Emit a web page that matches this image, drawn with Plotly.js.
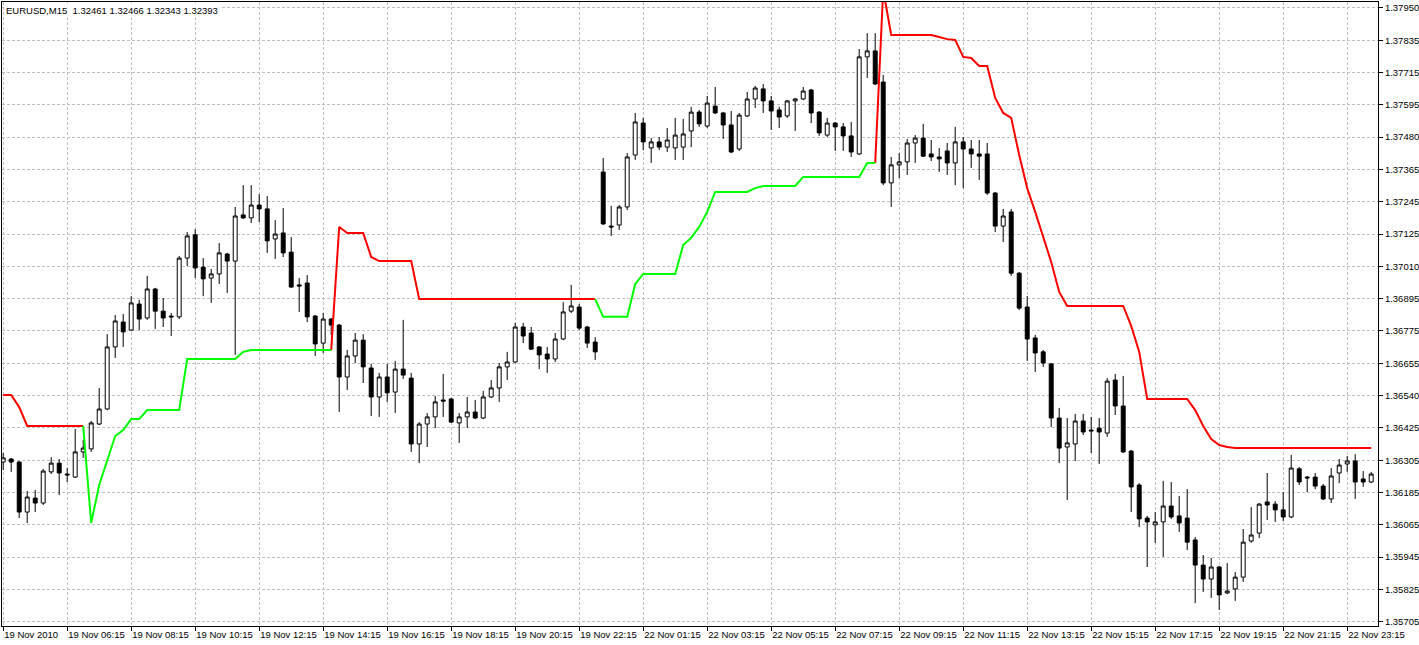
<!DOCTYPE html>
<html>
<head>
<meta charset="utf-8">
<script src="https://cdn.plot.ly/plotly-3.0.1.min.js"></script>
<style>
  html, body { margin: 0; padding: 0; background: #ffffff; }
  #chart { width: 1419px; height: 645px; }
</style>
</head>
<body>
<div id="chart"></div>
<script>
// ---- chart text ----
const chartTitle = 'EURUSD,M15\u00a0\u00a01.32461 1.32466 1.32343 1.32393';

// ---- tick labels ----
const timeLabels = ['19 Nov 2010','19 Nov 06:15','19 Nov 08:15','19 Nov 10:15','19 Nov 12:15','19 Nov 14:15',
  '19 Nov 16:15','19 Nov 18:15','19 Nov 20:15','19 Nov 22:15','22 Nov 01:15','22 Nov 03:15','22 Nov 05:15',
  '22 Nov 07:15','22 Nov 09:15','22 Nov 11:15','22 Nov 13:15','22 Nov 15:15','22 Nov 17:15','22 Nov 19:15',
  '22 Nov 21:15','22 Nov 23:15'];
const barsPerLabel = 8;
const priceLabels = ['1.37950','1.37835','1.37715','1.37595','1.37480','1.37365','1.37245','1.37125','1.37010',
  '1.36895','1.36775','1.36655','1.36540','1.36425','1.36305','1.36185','1.36065','1.35945','1.35825','1.35705'];

// ---- M15 candles (bar 0 .. 171) ----
const open = [
1.36289,1.36300,1.36289,1.36106,1.36157,1.36139,1.36253,1.36285,1.36245,1.36234,
1.36326,1.36337,1.36428,1.36483,1.36710,1.36801,1.36772,1.36867,1.36816,1.36922,
1.36841,1.36823,1.36820,1.37035,1.37120,1.37002,1.36962,1.36977,1.37050,1.37024,
1.37193,1.37182,1.37229,1.37215,1.37105,1.37127,1.37057,1.36937,1.36944,1.36823,
1.36724,1.36812,1.36790,1.36600,1.36677,1.36735,1.36633,1.36527,1.36600,1.36545,
1.36629,1.36596,1.36355,1.36428,1.36454,1.36516,1.36520,1.36432,1.36454,1.36472,
1.36450,1.36527,1.36560,1.36637,1.36655,1.36783,1.36761,1.36710,1.36684,1.36666,
1.36739,1.36841,1.36856,1.36783,1.36728,1.37350,1.37152,1.37156,1.37222,1.37412,
1.37529,1.37438,1.37460,1.37441,1.37438,1.37441,1.37500,1.37569,1.37518,1.37591,
1.37566,1.37522,1.37434,1.37555,1.37617,1.37654,1.37610,1.37577,1.37555,1.37610,
1.37617,1.37650,1.37569,1.37485,1.37529,1.37515,1.37482,1.37416,1.37771,1.37793,
1.37679,1.37310,1.37376,1.37387,1.37456,1.37474,1.37416,1.37405,1.37427,1.37383,
1.37460,1.37434,1.37416,1.37416,1.37273,1.37152,1.37204,1.36980,1.36856,1.36743,
1.36692,1.36648,1.36450,1.36344,1.36355,1.36439,1.36406,1.36413,1.36395,1.36589,
1.36494,1.36329,1.36205,1.36084,1.36059,1.36070,1.36128,1.36092,1.36084,1.36004,
1.35912,1.35861,1.35905,1.35810,1.35825,1.35868,1.36000,1.36029,1.36143,1.36135,
1.36114,1.36088,1.36264,1.36234,1.36234,1.36201,1.36154,1.36249,1.36282,1.36293,
1.36227,1.36216];
const high = [
1.36322,1.36304,1.36293,1.36183,1.36187,1.36264,1.36307,1.36300,1.36267,1.36410,
1.36370,1.36439,1.36560,1.36757,1.36827,1.36831,1.36896,1.36882,1.36970,1.36926,
1.36889,1.36834,1.37043,1.37130,1.37141,1.37035,1.36995,1.37090,1.37054,1.37222,
1.37302,1.37302,1.37269,1.37262,1.37174,1.37218,1.37112,1.36962,1.36973,1.36827,
1.36834,1.36816,1.36794,1.36699,1.36761,1.36757,1.36648,1.36615,1.36648,1.36659,
1.36809,1.36615,1.36435,1.36468,1.36531,1.36611,1.36523,1.36468,1.36527,1.36516,
1.36549,1.36589,1.36651,1.36692,1.36798,1.36798,1.36783,1.36713,1.36710,1.36761,
1.36874,1.36937,1.36867,1.36787,1.36746,1.37401,1.37226,1.37229,1.37419,1.37566,
1.37548,1.37474,1.37478,1.37511,1.37548,1.37544,1.37588,1.37577,1.37628,1.37661,
1.37569,1.37573,1.37566,1.37643,1.37665,1.37672,1.37628,1.37588,1.37613,1.37621,
1.37661,1.37654,1.37573,1.37548,1.37533,1.37529,1.37533,1.37800,1.37858,1.37858,
1.37705,1.37405,1.37419,1.37471,1.37485,1.37526,1.37467,1.37438,1.37456,1.37515,
1.37478,1.37467,1.37467,1.37456,1.37277,1.37215,1.37215,1.36984,1.36896,1.36754,
1.36699,1.36651,1.36487,1.36450,1.36465,1.36465,1.36454,1.36450,1.36596,1.36611,
1.36604,1.36333,1.36212,1.36092,1.36106,1.36220,1.36216,1.36165,1.36190,1.36015,
1.35949,1.35938,1.35909,1.35920,1.35887,1.36044,1.36124,1.36139,1.36249,1.36146,
1.36179,1.36315,1.36271,1.36238,1.36249,1.36209,1.36267,1.36300,1.36311,1.36318,
1.36256,1.36253];
const low = [
1.36260,1.36253,1.36084,1.36066,1.36106,1.36132,1.36245,1.36168,1.36216,1.36231,
1.36304,1.36326,1.36424,1.36479,1.36670,1.36710,1.36768,1.36772,1.36809,1.36776,
1.36783,1.36750,1.36812,1.37006,1.36962,1.36896,1.36871,1.36940,1.36907,1.36681,
1.37178,1.37163,1.37167,1.37054,1.37032,1.37039,1.36926,1.36838,1.36801,1.36677,
1.36688,1.36754,1.36472,1.36552,1.36651,1.36578,1.36457,1.36454,1.36509,1.36468,
1.36593,1.36326,1.36285,1.36344,1.36413,1.36454,1.36432,1.36359,1.36413,1.36446,
1.36446,1.36523,1.36509,1.36589,1.36651,1.36724,1.36699,1.36629,1.36615,1.36655,
1.36735,1.36834,1.36772,1.36706,1.36662,1.37156,1.37116,1.37138,1.37211,1.37394,
1.37430,1.37383,1.37430,1.37423,1.37394,1.37394,1.37441,1.37515,1.37511,1.37562,
1.37471,1.37419,1.37427,1.37551,1.37584,1.37566,1.37504,1.37511,1.37548,1.37500,
1.37613,1.37529,1.37482,1.37478,1.37427,1.37427,1.37405,1.37412,1.37694,1.37668,
1.37302,1.37222,1.37328,1.37339,1.37383,1.37405,1.37390,1.37350,1.37339,1.37302,
1.37291,1.37365,1.37321,1.37266,1.37130,1.37094,1.36970,1.36845,1.36659,1.36618,
1.36637,1.36417,1.36285,1.36150,1.36293,1.36388,1.36322,1.36282,1.36381,1.36461,
1.36322,1.36106,1.36051,1.35905,1.35993,1.35942,1.36081,1.36033,1.35967,1.35773,
1.35814,1.35792,1.35748,1.35806,1.35781,1.35850,1.35993,1.36011,1.36077,1.36070,
1.36073,1.36084,1.36205,1.36179,1.36190,1.36150,1.36139,1.36212,1.36253,1.36154,
1.36198,1.36212];
const close = [
1.36304,1.36289,1.36106,1.36161,1.36139,1.36256,1.36285,1.36249,1.36242,1.36326,
1.36340,1.36432,1.36483,1.36710,1.36805,1.36765,1.36871,1.36812,1.36922,1.36841,
1.36816,1.36820,1.37035,1.37116,1.36999,1.36959,1.36977,1.37054,1.37024,1.37189,
1.37182,1.37229,1.37215,1.37098,1.37123,1.37054,1.36929,1.36933,1.36820,1.36721,
1.36812,1.36790,1.36600,1.36677,1.36735,1.36637,1.36527,1.36600,1.36542,1.36629,
1.36607,1.36355,1.36428,1.36454,1.36509,1.36512,1.36435,1.36454,1.36472,1.36450,
1.36527,1.36560,1.36637,1.36655,1.36783,1.36750,1.36702,1.36681,1.36666,1.36739,
1.36838,1.36860,1.36779,1.36724,1.36692,1.37160,1.37149,1.37222,1.37405,1.37533,
1.37460,1.37460,1.37441,1.37467,1.37485,1.37489,1.37569,1.37526,1.37602,1.37566,
1.37522,1.37423,1.37558,1.37617,1.37657,1.37610,1.37573,1.37551,1.37610,1.37617,
1.37646,1.37566,1.37493,1.37529,1.37515,1.37482,1.37423,1.37771,1.37793,1.37672,
1.37310,1.37376,1.37387,1.37456,1.37474,1.37408,1.37405,1.37398,1.37383,1.37460,
1.37434,1.37416,1.37408,1.37273,1.37152,1.37189,1.36980,1.36852,1.36739,1.36688,
1.36651,1.36450,1.36340,1.36359,1.36439,1.36399,1.36403,1.36399,1.36585,1.36494,
1.36326,1.36198,1.36081,1.36070,1.36070,1.36128,1.36088,1.36066,1.35996,1.35912,
1.35861,1.35905,1.35803,1.35817,1.35868,1.35996,1.36022,1.36135,1.36132,1.36114,
1.36088,1.36267,1.36216,1.36231,1.36201,1.36154,1.36238,1.36278,1.36293,1.36216,
1.36216,1.36245];

// ---- trailing-stop indicator: downtrend (red) and uptrend (green) ----
const stopDown = [
1.36534,1.36534,1.36490,1.36421,1.36421,1.36421,1.36421,1.36421,1.36421,1.36421,1.36421,
null,null,null,null,null,null,null,null,null,null,null,null,null,null,null,null,null,null,null,null,
null,null,null,null,null,null,null,null,null,null,
1.36699,1.37149,1.37127,1.37127,1.37127,1.37039,1.37024,1.37024,1.37024,1.37024,1.37024,
1.36885,1.36885,1.36885,1.36885,1.36885,1.36885,1.36885,1.36885,1.36885,1.36885,1.36885,1.36885,
1.36885,1.36885,1.36885,1.36885,1.36885,1.36885,1.36885,1.36885,1.36885,1.36885,1.36885,
null,null,null,null,null,null,null,null,null,null,null,null,null,null,null,null,null,
null,null,null,null,null,null,null,null,null,null,null,null,null,null,null,null,null,
1.37383,1.38016,1.37851,1.37851,1.37851,1.37851,1.37851,1.37851,1.37844,1.37836,1.37833,1.37771,
1.37767,1.37738,1.37738,1.37621,1.37566,1.37548,1.37412,1.37291,1.37204,1.37109,1.37021,1.36911,
1.36860,1.36860,1.36860,1.36860,1.36860,1.36860,1.36860,1.36860,
1.36787,1.36692,1.36520,1.36520,1.36520,1.36520,1.36520,1.36520,1.36479,1.36421,1.36373,1.36351,1.36344,
1.36340,1.36340,1.36340,1.36340,1.36340,1.36340,1.36340,1.36340,1.36340,
1.36340,1.36340,1.36340,1.36340,1.36340,1.36340,1.36340,1.36340,1.36340];
const stopUp = [
null,null,null,null,null,null,null,null,null,null,
1.36421,1.36066,1.36205,1.36296,1.36384,1.36406,1.36446,1.36446,1.36479,1.36479,1.36479,1.36479,1.36479,
1.36666,1.36666,1.36666,1.36666,1.36666,1.36666,1.36666,1.36692,
1.36699,1.36699,1.36699,1.36699,1.36699,1.36699,1.36699,1.36699,1.36699,1.36699,1.36699,
null,null,null,null,null,null,null,null,null,null,null,null,null,null,null,null,
null,null,null,null,null,null,null,null,null,null,null,null,null,null,null,null,
1.36885,1.36820,1.36820,1.36820,1.36820,1.36940,1.36977,1.36977,1.36977,1.36977,1.36977,
1.37083,1.37109,1.37149,1.37204,1.37277,1.37277,1.37277,1.37277,1.37277,1.37291,
1.37299,1.37299,1.37299,1.37299,1.37299,
1.37332,1.37332,1.37332,1.37332,1.37332,1.37332,1.37332,1.37332,1.37383,1.37383,
null,null,null,null,null,null,null,null,null,null,null,null,null,null,null,null,null,null,null,null,null,
null,null,null,null,null,null,null,null,null,null,null,null,null,null,null,null,null,null,null,null,null,
null,null,null,null,null,null,null,null,null,null,null,null,null,null,null,null,null,null,null,null];

// ---- build chart ----
const barIndex = open.map((_, i) => i);
const timeTickVals = timeLabels.map((_, k) => k * barsPerLabel);
const pTop = parseFloat(priceLabels[0]);
const pBot = parseFloat(priceLabels[priceLabels.length - 1]);
const priceTickVals = priceLabels.map((_, k) => pTop - k * (pTop - pBot) / (priceLabels.length - 1));

const font = {family: 'Liberation Sans, Arial, sans-serif', size: 9.5, color: '#000000'};

const traces = [
  {
    type: 'candlestick', x: barIndex, open: open, high: high, low: low, close: close,
    increasing: {line: {color: '#000000', width: 1}, fillcolor: '#ffffff'},
    decreasing: {line: {color: '#000000', width: 1}, fillcolor: '#000000'},
    whiskerwidth: 0, hoverinfo: 'skip', showlegend: false
  },
  {
    type: 'scatter', mode: 'lines', x: barIndex, y: stopDown, connectgaps: false,
    line: {color: '#ff0000', width: 2}, hoverinfo: 'skip', showlegend: false
  },
  {
    type: 'scatter', mode: 'lines', x: barIndex, y: stopUp, connectgaps: false,
    line: {color: '#00ff00', width: 2}, hoverinfo: 'skip', showlegend: false
  }
];

const layout = {
  width: 1419, height: 645,
  margin: {l: 2, r: 41, t: 2, b: 19, pad: 0},
  paper_bgcolor: '#ffffff', plot_bgcolor: '#ffffff',
  showlegend: false,
  font: font,
  xaxis: {
    type: 'linear', range: [-0.15, 171.85], fixedrange: true,
    tickmode: 'array', tickvals: timeTickVals, ticktext: timeLabels,
    tickangle: 0, automargin: false,
    ticklabelposition: 'outside right', ticklabeloverflow: 'allow',
    ticks: 'outside', ticklen: 4, tickwidth: 1, tickcolor: '#000000',
    tickfont: font,
    showgrid: true, gridcolor: '#c0c0c0', gridwidth: 1, griddash: '3px,2px',
    showline: true, linecolor: '#000000', linewidth: 1, mirror: true,
    zeroline: false, rangeslider: {visible: false}
  },
  yaxis: {
    type: 'linear', side: 'right', range: [1.356892, 1.379718], fixedrange: true,
    tickmode: 'array', tickvals: priceTickVals, ticktext: priceLabels,
    tickangle: 0, automargin: false, ticklabeloverflow: 'allow',
    ticks: 'outside', ticklen: 4, tickwidth: 1, tickcolor: '#000000',
    tickfont: font,
    showgrid: true, gridcolor: '#c0c0c0', gridwidth: 1, griddash: '3px,2px',
    showline: true, linecolor: '#000000', linewidth: 1, mirror: true,
    zeroline: false
  },
  annotations: [{
    text: chartTitle, xref: 'paper', yref: 'paper', x: 0, y: 1,
    xanchor: 'left', yanchor: 'top', xshift: 2, yshift: -1,
    showarrow: false, bgcolor: '#ffffff', borderpad: 1, font: font
  }]
};

Plotly.newPlot('chart', traces, layout, {staticPlot: true, displayModeBar: false});
</script>
</body>
</html>
